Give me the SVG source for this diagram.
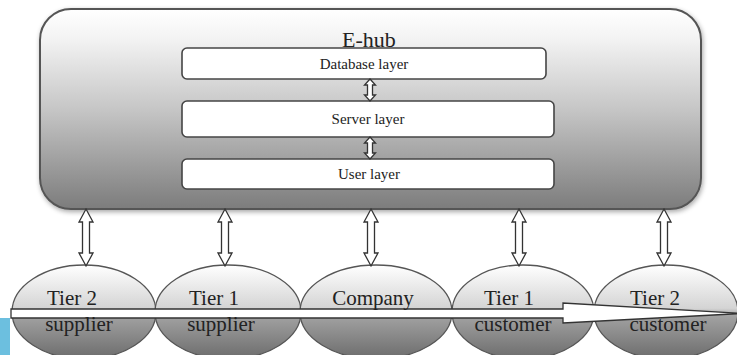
<svg xmlns="http://www.w3.org/2000/svg" width="737" height="355" viewBox="0 0 737 355">
<defs>
<linearGradient id="hubGrad" x1="0" y1="0" x2="0" y2="1">
<stop offset="0" stop-color="#ffffff"/>
<stop offset="0.15" stop-color="#f3f3f3"/>
<stop offset="0.5" stop-color="#c6c6c6"/>
<stop offset="1" stop-color="#7c7c7c"/>
</linearGradient>
<linearGradient id="ellGrad" x1="0" y1="0" x2="0" y2="1">
<stop offset="0" stop-color="#ffffff"/>
<stop offset="0.46" stop-color="#d4d4d4"/>
<stop offset="0.54" stop-color="#a2a2a2"/>
<stop offset="1" stop-color="#6c6c6c"/>
</linearGradient>
<filter id="shadow" x="-5%" y="-10%" width="110%" height="125%">
<feGaussianBlur in="SourceAlpha" stdDeviation="2.5"/>
<feOffset dx="1" dy="2" result="b"/>
<feComponentTransfer><feFuncA type="linear" slope="0.35"/></feComponentTransfer>
<feMerge><feMergeNode/><feMergeNode in="SourceGraphic"/></feMerge>
</filter>
</defs>
<style>
.hub{fill:url(#hubGrad);stroke:#555;stroke-width:2}
.layer{fill:#fff;stroke:#454545;stroke-width:1.6}
.ell{fill:url(#ellGrad);stroke:#555;stroke-width:1.3}
.arr{fill:#fff;stroke:#333;stroke-width:1.3;stroke-linejoin:miter}
.t{font-family:"Liberation Serif","Times New Roman",serif;fill:#222;text-anchor:middle}
.big{font-size:21px}
.small{font-size:15px}
</style>

<rect x="0" y="318" width="10" height="37" fill="#6cbfdf"/>

<g id="e-hub">
<rect class="hub" x="40" y="9" width="661" height="200" rx="31" filter="url(#shadow)"/>
<text class="t" x="369" y="47" font-size="22">E-hub</text>
</g>

<g id="database-layer">
<rect class="layer" x="182" y="48" width="364" height="31" rx="5"/>
<text class="t small" x="364" y="69">Database layer</text>
</g>
<g id="server-layer">
<rect class="layer" x="182" y="101" width="372" height="36" rx="5"/>
<text class="t small" x="368" y="124">Server layer</text>
</g>
<g id="user-layer">
<rect class="layer" x="182" y="159" width="372" height="30" rx="5"/>
<text class="t small" x="369" y="179">User layer</text>
</g>

<g id="tier2-supplier"><ellipse class="ell" cx="84" cy="312" rx="72" ry="47"/></g>
<g id="tier1-supplier"><ellipse class="ell" cx="228" cy="312" rx="73" ry="47"/></g>
<g id="company"><ellipse class="ell" cx="376" cy="312" rx="76" ry="47"/></g>
<g id="tier1-customer"><ellipse class="ell" cx="523" cy="312" rx="71" ry="47"/></g>
<g id="tier2-customer"><ellipse class="ell" cx="666" cy="312" rx="72" ry="47"/></g>

<g id="connectors">
<path class="arr" d="M370,79 L375.5,85 L372.5,85 L372.5,95 L375.5,95 L370,101 L364.5,95 L367.5,95 L367.5,85 L364.5,85 Z"/>
<path class="arr" d="M370,137 L375.5,143 L372.5,143 L372.5,153 L375.5,153 L370,159 L364.5,153 L367.5,153 L367.5,143 L364.5,143 Z"/>
<path class="arr" d="M86,209 L93,222 L89.5,222 L89.5,253 L93,253 L86,266 L79,253 L82.5,253 L82.5,222 L79,222 Z"/>
<path class="arr" d="M225,209 L232,222 L228.5,222 L228.5,253 L232,253 L225,266 L218,253 L221.5,253 L221.5,222 L218,222 Z"/>
<path class="arr" d="M371,209 L378,222 L374.5,222 L374.5,253 L378,253 L371,266 L364,253 L367.5,253 L367.5,222 L364,222 Z"/>
<path class="arr" d="M519,209 L526,222 L522.5,222 L522.5,253 L526,253 L519,266 L512,253 L515.5,253 L515.5,222 L512,222 Z"/>
<path class="arr" d="M664,209 L671,222 L667.5,222 L667.5,253 L671,253 L664,266 L657,253 L660.5,253 L660.5,222 L657,222 Z"/>
<path class="arr" d="M11,309 L563,309 L563,303 L742,313.5 L563,323 L563,318 L11,318 Z"/>
</g>

<g id="labels">
<text class="t big" x="72" y="305">Tier 2</text>
<text class="t big" x="79" y="331">supplier</text>
<text class="t big" x="214" y="305">Tier 1</text>
<text class="t big" x="221" y="331">supplier</text>
<text class="t big" x="373" y="305">Company</text>
<text class="t big" x="509" y="305">Tier 1</text>
<text class="t big" x="513" y="331">customer</text>
<text class="t big" x="655" y="305">Tier 2</text>
<text class="t big" x="668" y="331">customer</text>
</g>
</svg>
